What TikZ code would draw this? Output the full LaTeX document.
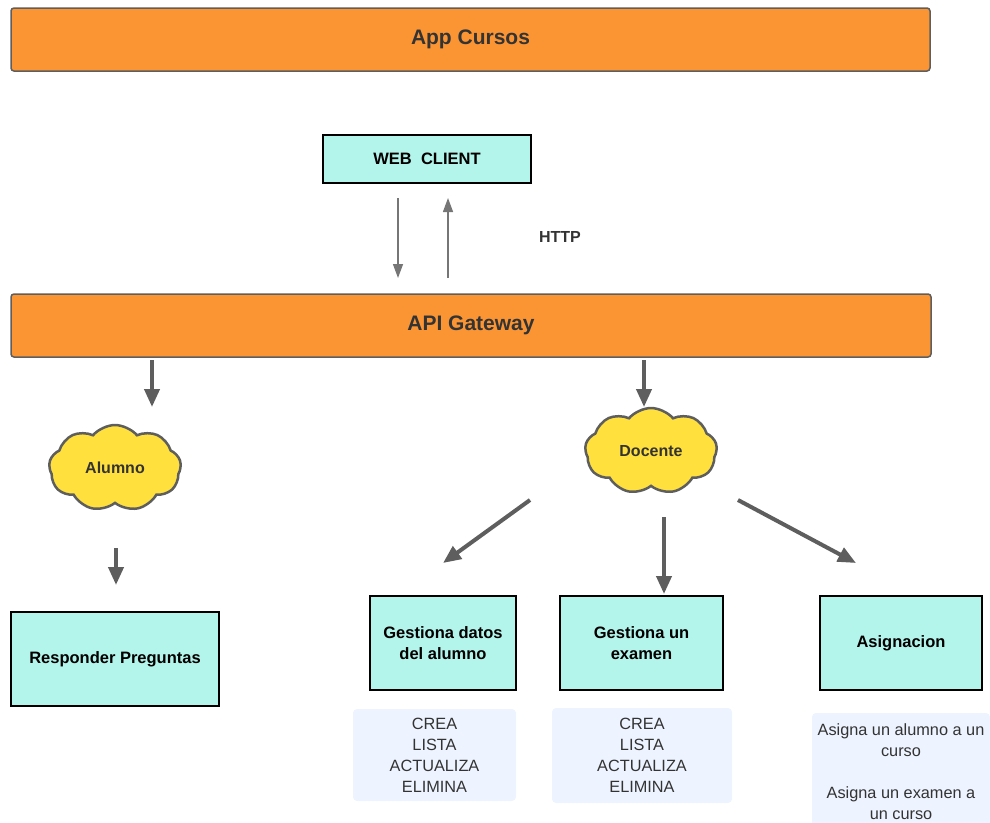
\documentclass[tikz,border=0pt]{standalone}
\usepackage{fontspec}
\setmainfont{Liberation Sans}
\usetikzlibrary{shapes.symbols,arrows.meta}

\definecolor{barorange}{HTML}{FB9533}
\definecolor{edgegray}{HTML}{5E5E5E}
\definecolor{boxcyan}{HTML}{B3F4EB}
\definecolor{cloudyellow}{HTML}{FFE03C}
\definecolor{notebg}{HTML}{EDF4FF}
\definecolor{textgray}{HTML}{333333}

\tikzset{
  bar/.style={draw=edgegray,fill=barorange,line width=1.5pt,rounded corners=3pt,
    minimum width=919pt,minimum height=63pt,inner sep=0pt,text=textgray,
    font=\fontsize{21}{25}\selectfont\bfseries},
  module/.style={draw=black,fill=boxcyan,line width=1.2pt,inner sep=0pt,
    align=center,font=\fontsize{16.5}{21}\selectfont\bfseries},
  actor/.style={cloud,cloud puffs=9,cloud puff arc=100,aspect=1.5,draw=edgegray,
    fill=cloudyellow,line width=2.5pt,minimum width=132pt,minimum height=86pt,
    inner sep=0pt,text=textgray,font=\fontsize{16}{18}\selectfont\bfseries},
  note/.style={fill=notebg,rounded corners=4pt,inner sep=0pt,align=center,
    text=textgray,font=\fontsize{16.3}{21}\selectfont},
  thin arrow/.style={draw=edgegray!85,line width=1.3pt,-{Triangle[width=10pt,length=14pt]}},
  thick arrow/.style={draw=edgegray,line width=4pt,-{Triangle[width=15pt,length=18pt]}}
}

\begin{document}
\begin{tikzpicture}[x=1pt,y=-1pt]
  \path[clip] (0,0) rectangle (990,822);

  % top bars
  \node[bar] (app) at (470.5,39.5) {App Cursos};
  \node[bar,minimum width=920pt] (gateway) at (471,325.5) {API Gateway};

  % web client and http
  \node[module,minimum width=208pt,minimum height=48pt] (web) at (427,159) {WEB\ \ CLIENT};
  \node[font=\fontsize{16}{18}\selectfont\bfseries,text=textgray] (http) at (560,237) {HTTP};
  \coordinate (req1) at (398,198);
  \coordinate (req2) at (398,278);
  \coordinate (res1) at (448,278);
  \coordinate (res2) at (448,198);
  \draw[thin arrow] (req1) -- (req2);
  \draw[thin arrow] (res1) -- (res2);

  % actors
  \node[actor] (alumno) at (115,468) {Alumno};
  \node[actor] (docente) at (651,451) {Docente};

  % modules
  \node[module,minimum width=208pt,minimum height=94pt] (responder) at (115,659) {Responder Preguntas};
  \node[module,minimum width=146pt,minimum height=94pt] (datos) at (443,643) {Gestiona datos\\del alumno};
  \node[module,minimum width=163pt,minimum height=94pt] (examen) at (641.5,643) {Gestiona un\\examen};
  \node[module,minimum width=162pt,minimum height=94pt] (asigna) at (901,643) {Asignacion};

  % notes
  \node[note,minimum width=163pt,minimum height=92pt] (datosnote) at (434.5,755) {CREA\\LISTA\\ACTUALIZA\\ELIMINA};
  \node[note,minimum width=180pt,minimum height=95pt] (examennote) at (642,755.5) {CREA\\LISTA\\ACTUALIZA\\ELIMINA};
  \node[note,minimum width=178pt,minimum height=117pt] (asignanote) at (901,771.5)
    {Asigna un alumno a un\\curso\\[21pt]Asigna un examen a\\un curso};

  % arrows
  \coordinate (g1) at (152,360);
  \coordinate (g2) at (152,407);
  \coordinate (g3) at (644,360);
  \coordinate (g4) at (644,407);
  \coordinate (a1) at (116,548);
  \coordinate (a2) at (116,585);
  \coordinate (d1) at (530,500);
  \coordinate (d2) at (443,563);
  \coordinate (d3) at (664,517);
  \coordinate (d4) at (664,594);
  \coordinate (d5) at (738,500);
  \coordinate (d6) at (856,563);
  \draw[thick arrow] (g1) -- (g2);
  \draw[thick arrow] (g3) -- (g4);
  \draw[thick arrow] (a1) -- (a2);
  \draw[thick arrow] (d1) -- (d2);
  \draw[thick arrow] (d3) -- (d4);
  \draw[thick arrow] (d5) -- (d6);
\end{tikzpicture}
\end{document}
